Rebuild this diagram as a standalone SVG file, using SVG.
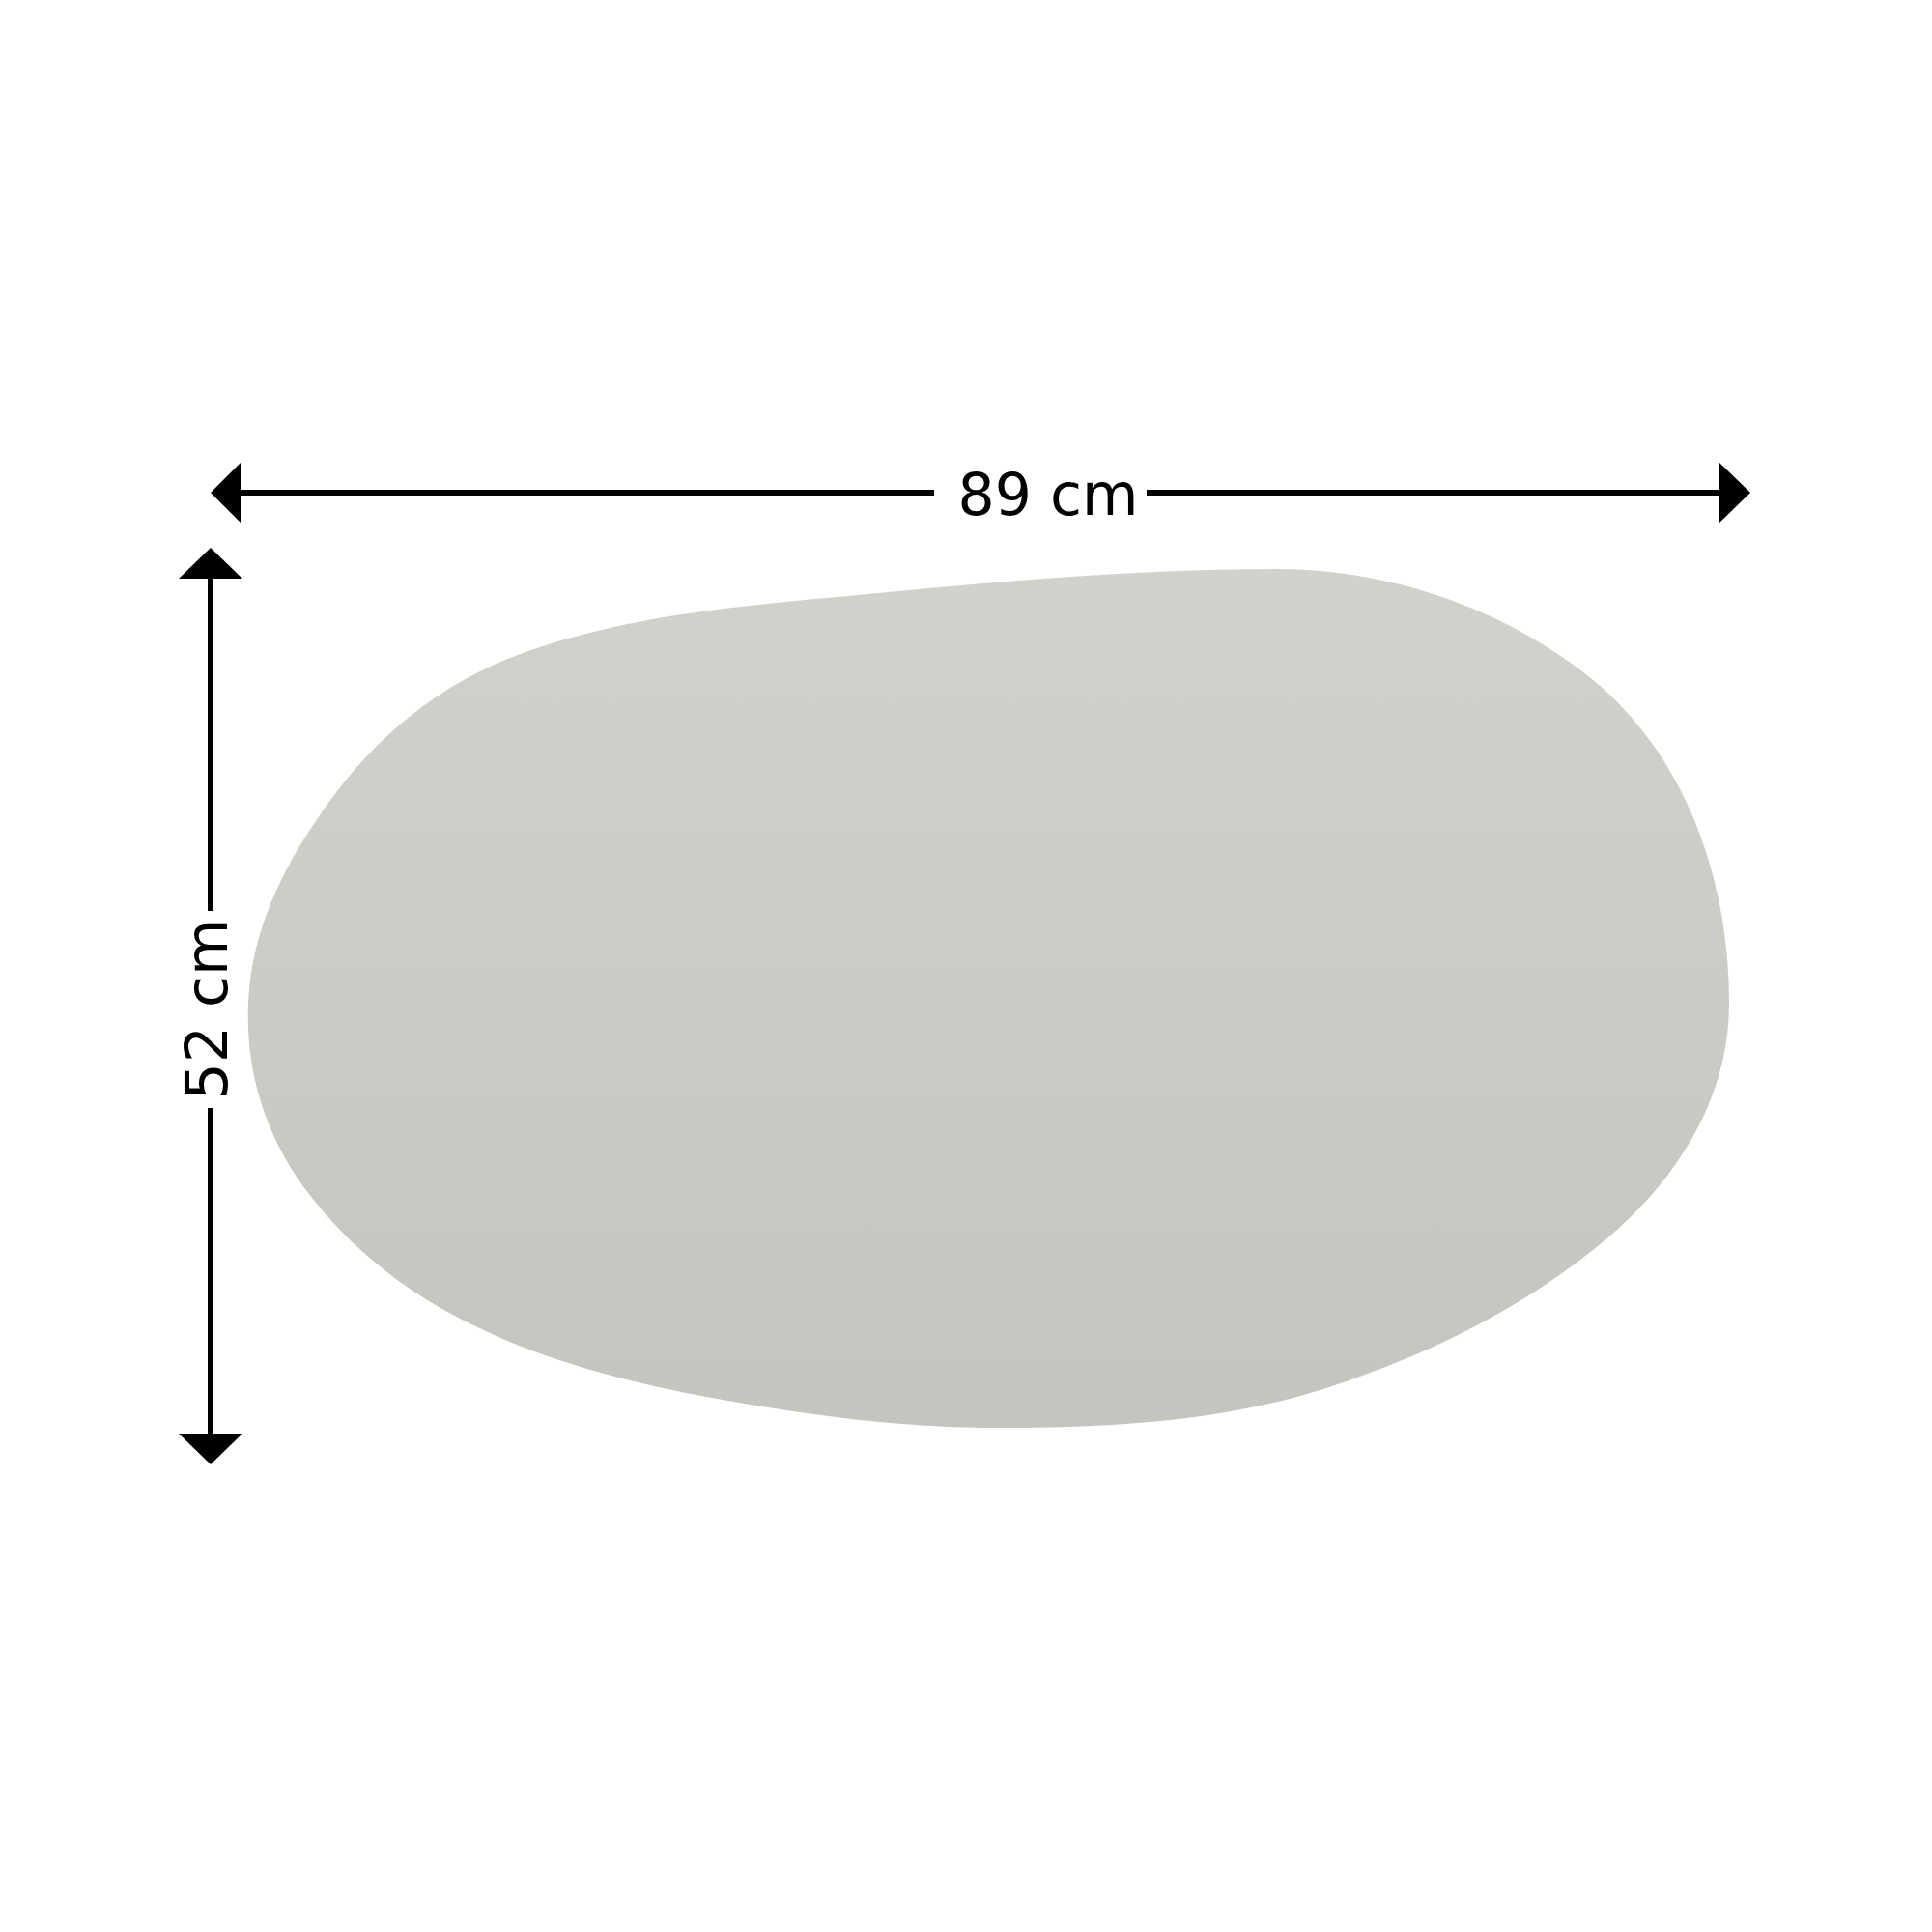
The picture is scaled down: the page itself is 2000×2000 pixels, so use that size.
<svg xmlns="http://www.w3.org/2000/svg" width="2000" height="2000" viewBox="0 0 2000 2000">
  <defs>
    <linearGradient id="stoneFill" x1="0" y1="0" x2="0" y2="1">
      <stop offset="0" stop-color="#d2d2cd"/>
      <stop offset="1" stop-color="#c5c5c0"/>
    </linearGradient>
  </defs>
  <style>
    .dim { stroke: #000; stroke-width: 6; fill: none; }
    .head { fill: #000; }
    .label { font-family: "DejaVu Sans", "Liberation Sans", sans-serif; font-size: 60px; fill: #000; }
  </style>
  <rect width="2000" height="2000" fill="#ffffff"/>

  <g id="stone">
    <path fill="url(#stoneFill)" d="M 1322 589
      C 1435 589 1548 627 1638 695
      C 1743 775 1790 907 1790 1039
      C 1790 1134 1738.3 1218.4 1666 1280
      C 1581.5 1351.9 1484.3 1400 1379 1435
      C 1268 1471.9 1147 1478 1030 1478
      C 932 1478 833.4 1464.7 737 1447
      C 647.5 1430.5 559 1407.5 478 1366
      C 417.5 1335 365.2 1293.4 323 1240
      C 277.1 1181.9 253.8 1112.9 257 1039
      C 260.2 964.1 291.9 899.4 335 838
      C 386.8 764.4 451.7 709.4 536 678
      C 654 634 783.6 626.1 909 614
      C 1046.3 600.8 1184 589 1322 589 Z"/>
  </g>

  <g id="connectors">
    <line class="dim" x1="248" y1="510" x2="967" y2="510"/>
    <line class="dim" x1="1187" y1="510" x2="1781" y2="510"/>
    <polygon class="head" points="218,510 250,478 250,542"/>
    <polygon class="head" points="1812,510 1779,478 1779,542"/>
    <line class="dim" x1="218" y1="597" x2="218" y2="943"/>
    <line class="dim" x1="218" y1="1147" x2="218" y2="1486"/>
    <polygon class="head" points="218,567 185,599 251,599"/>
    <polygon class="head" points="218,1516 185,1484 251,1484"/>
  </g>

  <g id="width-label">
    <text class="label" x="1085" y="533" text-anchor="middle">89 cm</text>
  </g>
  <g id="height-label">
    <text class="label" x="0" y="0" text-anchor="middle" transform="translate(235 1045) rotate(-90)">52 cm</text>
  </g>
</svg>
